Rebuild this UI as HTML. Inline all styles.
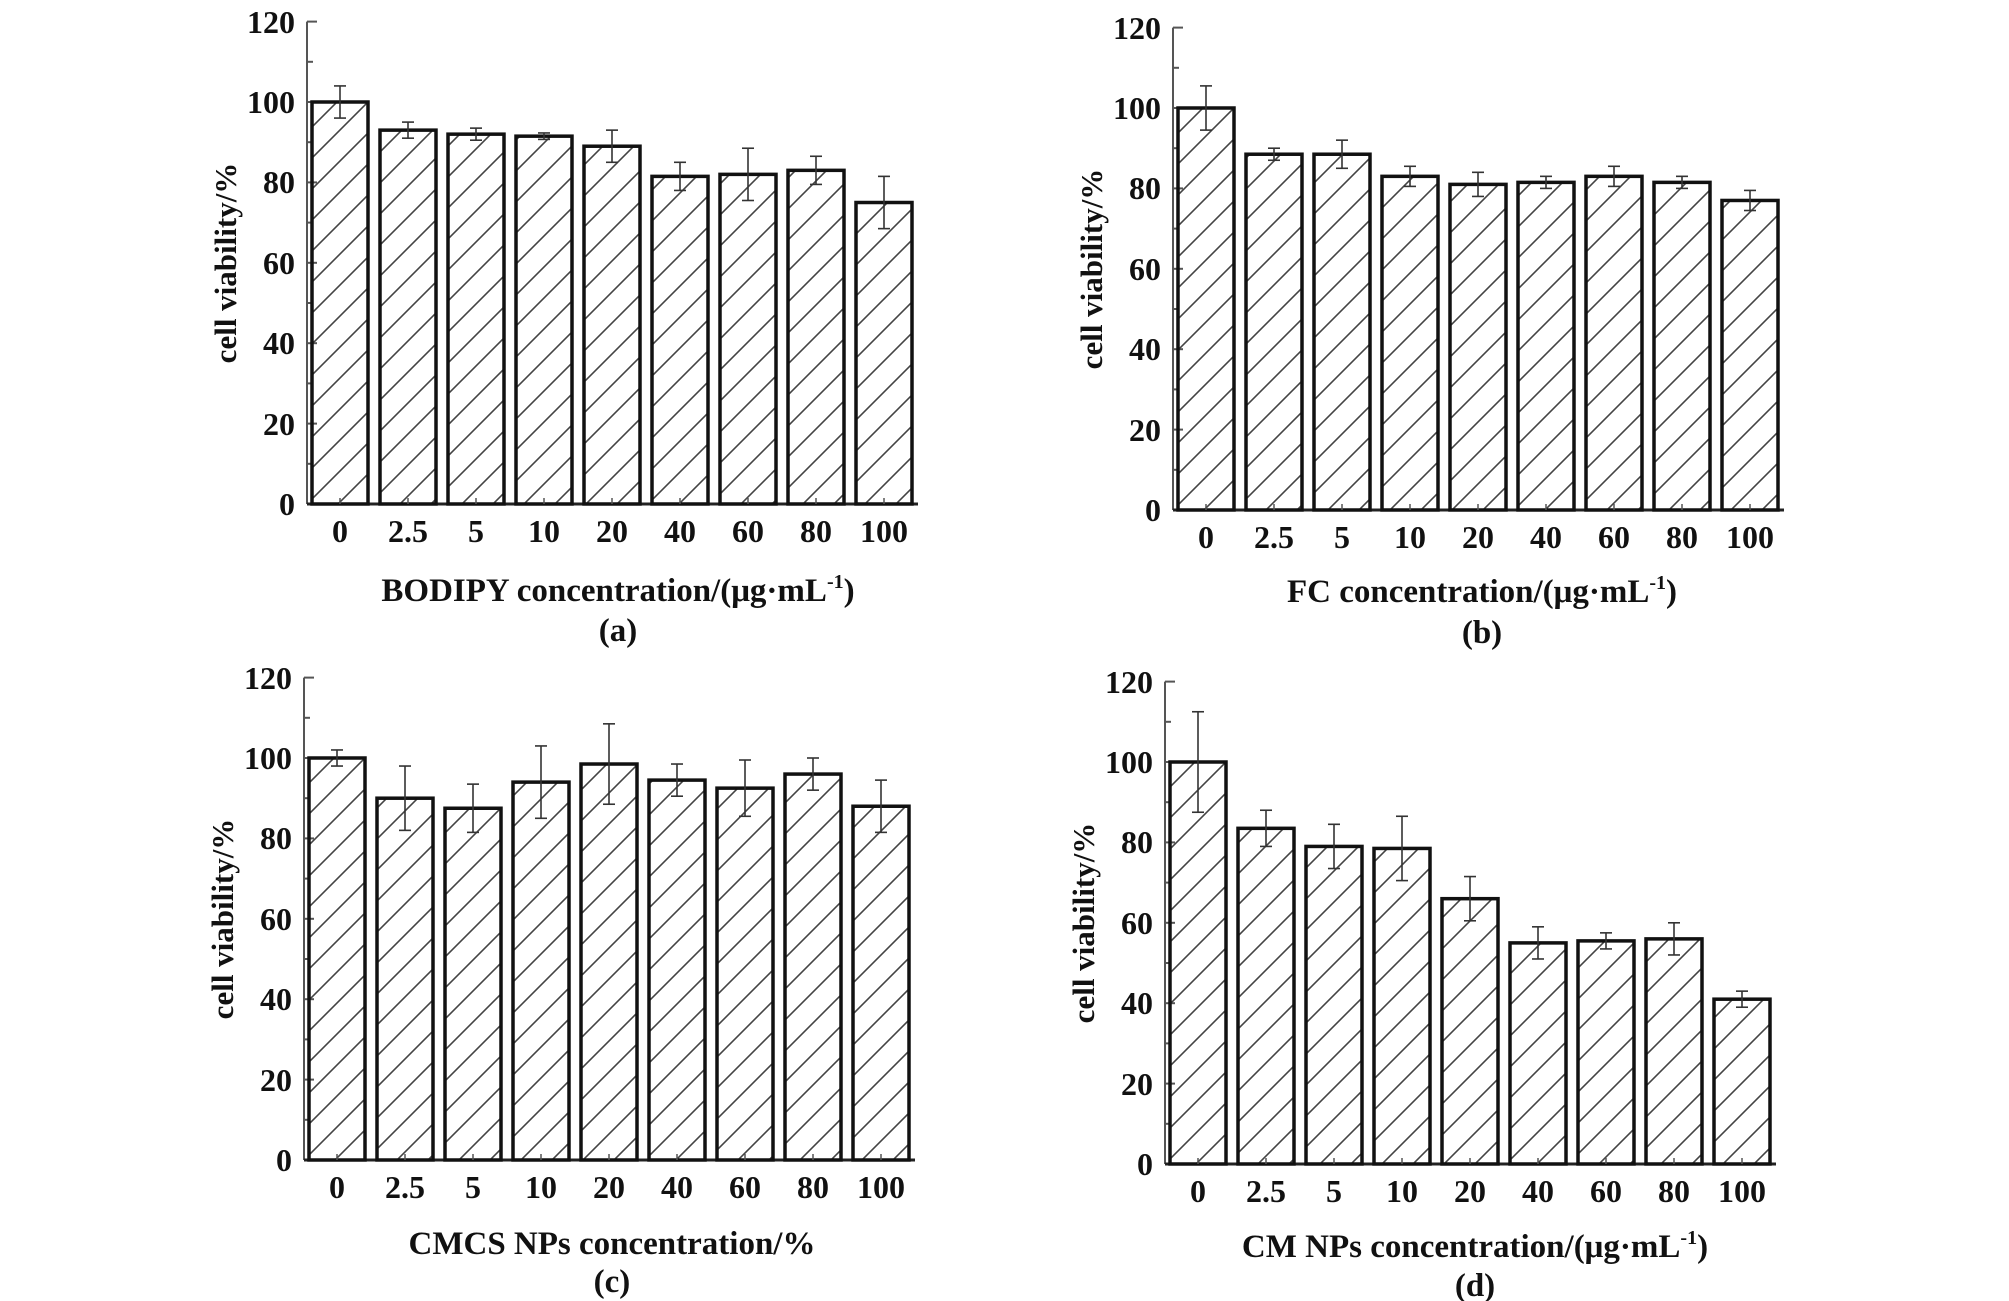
<!DOCTYPE html>
<html><head><meta charset="utf-8"><style>
html,body{margin:0;padding:0;background:#fff;}
svg{display:block;}
text{font-family:"Liberation Serif",serif;font-weight:bold;fill:#111;}
.t{font-size:32px;}
.tt{font-size:33px;}
.yl{font-size:31px;}
</style></head><body>
<svg id="s" width="2009" height="1301" viewBox="0 0 2009 1301" xmlns="http://www.w3.org/2000/svg">
<defs>
<pattern id="h" patternUnits="userSpaceOnUse" width="31" height="31">
<path d="M-2,33 L33,-2 M-2,2 L2,-2 M29,33 L33,29" stroke="#444" stroke-width="1.6"/>
</pattern>
</defs>

<g id="pa" transform="translate(307,504)">
<g class="t" text-anchor="end">
<text x="-12" y="11">0</text><text x="-12" y="-69">20</text><text x="-12" y="-150">40</text><text x="-12" y="-230">60</text><text x="-12" y="-311">80</text><text x="-12" y="-391">100</text><text x="-12" y="-471">120</text>
</g>
<g class="t" text-anchor="middle">
<text x="33" y="38">0</text><text x="101" y="38">2.5</text><text x="169" y="38">5</text><text x="237" y="38">10</text><text x="305" y="38">20</text><text x="373" y="38">40</text><text x="441" y="38">60</text><text x="509" y="38">80</text><text x="577" y="38">100</text>
</g>
<text class="tt" x="311" y="97" text-anchor="middle">BODIPY concentration/(μg·mL<tspan font-size="20" dy="-13">-1</tspan><tspan dy="13">)</tspan></text>
<text class="tt" x="311" y="137" text-anchor="middle">(a)</text>
<text class="yl" transform="translate(-71,-241) rotate(-90)" text-anchor="middle">cell viability/%</text>
</g>

<g id="pb" transform="translate(1173,510)">
<g class="t" text-anchor="end">
<text x="-12" y="11">0</text><text x="-12" y="-69">20</text><text x="-12" y="-150">40</text><text x="-12" y="-230">60</text><text x="-12" y="-311">80</text><text x="-12" y="-391">100</text><text x="-12" y="-471">120</text>
</g>
<g class="t" text-anchor="middle">
<text x="33" y="38">0</text><text x="101" y="38">2.5</text><text x="169" y="38">5</text><text x="237" y="38">10</text><text x="305" y="38">20</text><text x="373" y="38">40</text><text x="441" y="38">60</text><text x="509" y="38">80</text><text x="577" y="38">100</text>
</g>
<text class="tt" x="309" y="92" text-anchor="middle">FC concentration/(μg·mL<tspan font-size="20" dy="-13">-1</tspan><tspan dy="13">)</tspan></text>
<text class="tt" x="309" y="133" text-anchor="middle">(b)</text>
<text class="yl" transform="translate(-71,-241) rotate(-90)" text-anchor="middle">cell viability/%</text>
</g>

<g id="pc" transform="translate(304,1160)">
<g class="t" text-anchor="end">
<text x="-12" y="11">0</text><text x="-12" y="-69">20</text><text x="-12" y="-150">40</text><text x="-12" y="-230">60</text><text x="-12" y="-311">80</text><text x="-12" y="-391">100</text><text x="-12" y="-471">120</text>
</g>
<g class="t" text-anchor="middle">
<text x="33" y="38">0</text><text x="101" y="38">2.5</text><text x="169" y="38">5</text><text x="237" y="38">10</text><text x="305" y="38">20</text><text x="373" y="38">40</text><text x="441" y="38">60</text><text x="509" y="38">80</text><text x="577" y="38">100</text>
</g>
<text class="tt" x="308" y="94" text-anchor="middle">CMCS NPs concentration/%</text>
<text class="tt" x="308" y="132" text-anchor="middle">(c)</text>
<text class="yl" transform="translate(-71,-241) rotate(-90)" text-anchor="middle">cell viability/%</text>
</g>

<g id="pd" transform="translate(1165,1164)">
<g class="t" text-anchor="end">
<text x="-12" y="11">0</text><text x="-12" y="-69">20</text><text x="-12" y="-150">40</text><text x="-12" y="-230">60</text><text x="-12" y="-311">80</text><text x="-12" y="-391">100</text><text x="-12" y="-471">120</text>
</g>
<g class="t" text-anchor="middle">
<text x="33" y="38">0</text><text x="101" y="38">2.5</text><text x="169" y="38">5</text><text x="237" y="38">10</text><text x="305" y="38">20</text><text x="373" y="38">40</text><text x="441" y="38">60</text><text x="509" y="38">80</text><text x="577" y="38">100</text>
</g>
<text class="tt" x="310" y="93" text-anchor="middle">CM NPs concentration/(μg·mL<tspan font-size="20" dy="-13">-1</tspan><tspan dy="13">)</tspan></text>
<text class="tt" x="310" y="132" text-anchor="middle">(d)</text>
<text class="yl" transform="translate(-71,-241) rotate(-90)" text-anchor="middle">cell viability/%</text>
</g>
</svg>
<script>
var NS="http://www.w3.org/2000/svg";
var k=4.02;
var data={
pa:[[100,4],[93,2],[92,1.5],[91.5,0.8],[89,4],[81.5,3.5],[82,6.5],[83,3.5],[75,6.5]],
pb:[[100,5.5],[88.5,1.5],[88.5,3.5],[83,2.5],[81,3],[81.5,1.5],[83,2.5],[81.5,1.5],[77,2.5]],
pc:[[100,2],[90,8],[87.5,6],[94,9],[98.5,10],[94.5,4],[92.5,7],[96,4],[88,6.5]],
pd:[[100,12.5],[83.5,4.5],[79,5.5],[78.5,8],[66,5.5],[55,4],[55.5,2],[56,4],[41,2]]
};
function el(p,n,a){var e=document.createElementNS(NS,n);for(var q in a)e.setAttribute(q,a[q]);p.appendChild(e);return e;}
for(var id in data){
 var g=document.getElementById(id);
 var gg=el(g,"g",{});
 g.insertBefore(gg,g.firstChild);
 el(gg,"line",{x1:0,y1:0,x2:0,y2:-120*k,stroke:"#555","stroke-width":2});
 el(gg,"line",{x1:0,y1:0,x2:611,y2:0,stroke:"#222","stroke-width":3});
 for(var v=10;v<=120;v+=10){
  var big=(v%20==0);
  el(gg,"line",{x1:0,y1:-v*k,x2:big?10:6,y2:-v*k,stroke:"#555","stroke-width":2});
 }
 data[id].forEach(function(d,i){
  var x=5+i*68, h=d[0]*k, cx=x+28;
  el(gg,"rect",{x:x,y:-h,width:56,height:h,fill:"url(#h)"});
  el(gg,"rect",{x:x,y:-h,width:56,height:h,fill:"none",stroke:"#111","stroke-width":3.5});
  el(gg,"line",{x1:cx,y1:0,x2:cx,y2:-6,stroke:"#555","stroke-width":1.5});
  var t=-(d[0]+d[1])*k, b=-(d[0]-d[1])*k;
  el(gg,"line",{x1:cx,y1:t,x2:cx,y2:b,stroke:"#333","stroke-width":1.6});
  el(gg,"line",{x1:cx-6,y1:t,x2:cx+6,y2:t,stroke:"#333","stroke-width":1.6});
  el(gg,"line",{x1:cx-6,y1:b,x2:cx+6,y2:b,stroke:"#333","stroke-width":1.6});
 });
}
</script>
</body></html>
